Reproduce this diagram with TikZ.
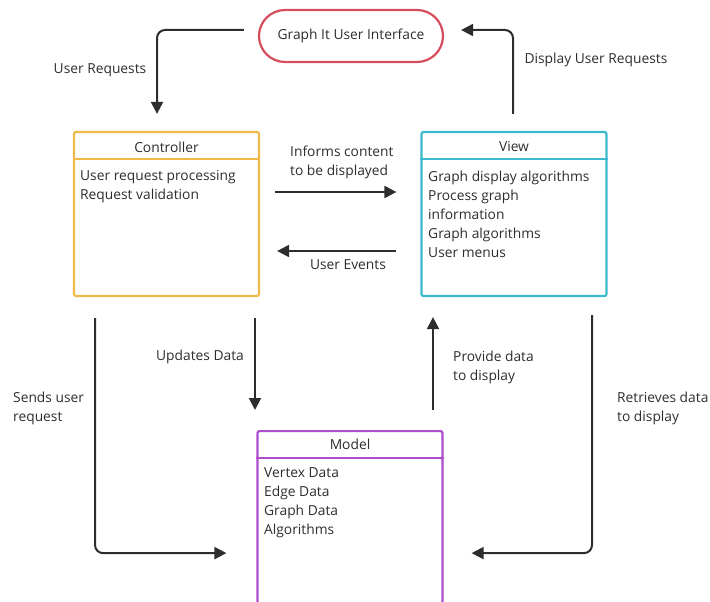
\documentclass[tikz,border=0pt]{standalone}
\usepackage{fontspec}
\setmainfont{Open Sans}
\usetikzlibrary{arrows.meta,calc}

\definecolor{uired}{RGB}{214,78,92}
\definecolor{ctrlorange}{RGB}{240,186,72}
\definecolor{viewcyan}{RGB}{58,186,204}
\definecolor{modelpurple}{RGB}{176,76,206}
\definecolor{inkgray}{RGB}{45,45,45}

\begin{document}
\begin{tikzpicture}[x=1pt,y=-1pt,
        font=\fontsize{13.8}{19}\selectfont,
        every node/.style={text=inkgray},
        classbox/.style={draw=#1,line width=2.2pt,rounded corners=2pt,
            minimum width=185pt,minimum height=164pt,inner sep=0pt},
        headline/.style={draw=#1,line width=2.2pt},
        flow/.style={draw=inkgray,line width=2pt,rounded corners=8pt,
            -{Triangle[length=12pt,width=12pt]}},
        lbl/.style={align=left,inner sep=0pt}]
    \clip (0,0) rectangle (710,602);

    % user interface
    \node (ui) [draw=uired,line width=2.2pt,rounded corners=26pt,
        minimum width=184pt,minimum height=52pt] at (351,36) {Graph It User Interface};

    % Controller
    \node (ctrl) [classbox=ctrlorange] at (166.5,214) {};
    \draw[headline=ctrlorange] ($(ctrl.north west)+(0,28)$) -- ($(ctrl.north east)+(0,28)$);
    \node (ctrl-title) at (166.5,147) {Controller};
    \node (ctrl-body) [lbl,anchor=north west] at (80,170.5) {User request processing\\Request validation};

    % View
    \node (view) [classbox=viewcyan] at (514,214) {};
    \draw[headline=viewcyan] ($(view.north west)+(0,28)$) -- ($(view.north east)+(0,28)$);
    \node (view-title) at (514,147) {View};
    \node (view-body) [lbl,anchor=north west] at (428,170.5) {Graph display algorithms\\Process graph\\information\\Graph algorithms\\User menus};

    % Model
    \node (model) [classbox=modelpurple,minimum height=200pt,anchor=north] at (350,430) {};
    \draw[headline=modelpurple] ($(model.north west)+(0,28)$) -- ($(model.north east)+(0,28)$);
    \node (model-title) at (350,444) {Model};
    \node (model-body) [lbl,anchor=north west] at (264,467.5) {Vertex Data\\Edge Data\\Graph Data\\Algorithms};

    % connectors
    \draw[flow] ($(ui.west)+(-14,-6)$) -| ($(ctrl.north)+(-9.5,-17)$);
    \draw[flow] ($(view.north)+(-1,-17)$) |- ($(ui.east)+(17,-6)$);
    \draw[flow] ($(ctrl.east)+(15,-22)$) -- ($(view.west)+(-24,-22)$);
    \draw[flow] ($(view.west)+(-24,37)$) -- ($(ctrl.east)+(17,37)$);
    \draw[flow] ($(ctrl.south)+(88.5,21)$) -- ($(model.north)+(-95,-20)$);
    \draw[flow] ($(model.north)+(83,-20)$) -- ($(view.south)+(-81,20)$);
    \draw[flow] ($(ctrl.south)+(-71.5,21)$) |- ($(model.west)+(-30,22)$);
    \draw[flow] ($(view.south)+(78,18)$) |- ($(model.east)+(28,22)$);

    % connector labels
    \node (lbl-requests) at (100,70) {User Requests};
    \node (lbl-display) at (596,60) {Display User Requests};
    \node (lbl-informs) [lbl,anchor=north west] at (290,146) {Informs content\\to be displayed};
    \node (lbl-events) at (348,265) {User Events};
    \node (lbl-updates) at (200,357) {Updates Data};
    \node (lbl-provide) [lbl,anchor=north west] at (453,351) {Provide data\\to display};
    \node (lbl-sends) [lbl,anchor=north west] at (13,392) {Sends user\\request};
    \node (lbl-retrieves) [lbl,anchor=north west] at (617,392) {Retrieves data\\to display};
\end{tikzpicture}
\end{document}
